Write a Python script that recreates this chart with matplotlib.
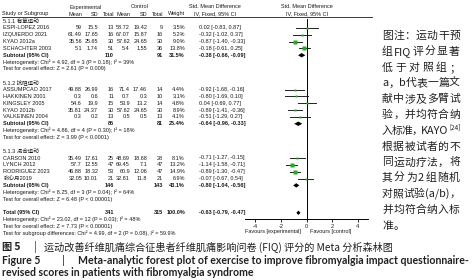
import re
import numpy as np
import matplotlib.pyplot as plt

# ── data ──────────────────────────────────────────────────────────────────────
groups = ["5.1.1 有氧运动", "5.1.2 抗阻运动", "5.1.3 混合运动"]

studies = [
    ["ESPI-LOPEZ 2016", "IZQUIERDO 2021", "KYAO 2012a", "SCHACHTER 2003"],
    ["ASSUMPCAO 2017", "HAKKINEN 2001", "KINGSLEY 2005", "KYAO 2012b", "VALKEINEN 2004"],
    ["CARSON 2010", "LYNCH 2012", "RODRIGUEZ 2023", "张心月2019"],
]
exp_mean = [[59, 61.49, 35.56, 5.1], [49.88, 0.3, 54.6, 35.81, 0.3], [35.49, 57.7, 46.88, 32.05]]
exp_sd = [[15.5, 17.65, 25.65, 1.74], [26.99, 0.6, 19.9, 24.37, 0.2], [17.61, 12.55, 18.32, 10.01]]
exp_n = [[13, 16, 30, 51], [16, 11, 15, 30, 13], [25, 47, 53, 21]]
ctl_mean = [[58.72, 67.07, 57.62, 5.4], [71.4, 0.7, 53.9, 57.62, 0.5], [48.69, 69.45, 60.9, 32.81]]
ctl_sd = [[19.42, 15.87, 24.65, 1.55], [17.46, 0.3, 13.2, 24.65, 0.5], [18.68, 7.1, 12.06, 11.8]]
ctl_n = [[9, 16, 30, 36], [14, 10, 14, 30, 13], [28, 47, 47, 21]]
weight = [[3.5, 5.2, 9.0, 13.8], [4.4, 3.1, 4.8, 8.9, 4.1], [8.1, 13.2, 14.9, 6.9]]
smd = [[0.02, -0.32, -0.87, -0.18], [-0.92, -0.80, 0.04, -0.89, -0.51], [-0.71, -1.14, -0.89, -0.07]]
lo = [[-0.83, -1.02, -1.40, -0.61], [-1.68, -1.69, -0.69, -1.41, -1.29], [-1.27, -1.58, -1.30, -0.67]]
hi = [[0.87, 0.37, -0.33, 0.25], [-0.16, 0.10, 0.77, -0.36, 0.27], [-0.15, -0.71, -0.47, 0.54]]

sub_weight = [31.5, 25.4, 43.1]
sub_smd = [-0.38, -0.64, -0.80]
sub_lo = [-0.66, -0.96, -1.04]
sub_hi = [-0.09, -0.33, -0.56]
sub_het = [
    "Heterogeneity: Chi² = 4.92, df = 3 (P = 0.18); I² = 39%",
    "Heterogeneity: Chi² = 4.86, df = 4 (P = 0.30); I² = 18%",
    "Heterogeneity: Chi² = 8.25, df = 3 (P = 0.04); I² = 64%",
]
sub_test = [
    "Test for overall effect: Z = 2.61 (P = 0.009)",
    "Test for overall effect: Z = 3.99 (P < 0.0001)",
    "Test for overall effect: Z = 6.48 (P < 0.00001)",
]
tot_smd, tot_lo, tot_hi = -0.63, -0.79, -0.47
tot_het = "Heterogeneity: Chi² = 23.02, df = 12 (P = 0.03); I² = 48%"
tot_test = "Test for overall effect: Z = 7.73 (P < 0.00001)"
tot_sub = "Test for subgroup differences: Chi² = 4.99, df = 2 (P = 0.08), I² = 59.9%"
ticks = [-4, -2, 0, 2, 4]

# "^" marks a superscript token
note_lines = [
    "图注：运动干预", "组 FIQ 评分显著", "低于对照组；", "a，b 代表一篇文",
    "献中涉及多臂试", "验，并均符合纳", "入标准，KAYO ^[24]", "根据被试者的不",
    "同运动疗法，将", "其分为 2 组随机", "对照试验 (a/b)，", "并均符合纳入标", "准。",
]
cap_cn = "运动改善纤维肌痛综合征患者纤维肌痛影响问卷 (FIQ) 评分的 Meta 分析森林图"
cap_en1 = "Meta-analytic forest plot of exercise to improve fibromyalgia impact questionnaire-"
cap_en2 = "revised scores in patients with fibromyalgia syndrome"

# ── layout ────────────────────────────────────────────────────────────────────
W, H = 475, 280
Y0, DY = 21.0, 6.85          # first row, row pitch (pixels)
AX_Y = 219                   # pixel row of the effect axis
FS = 4.0
TF = ["Liberation Sans", "Noto Sans CJK SC"]
INK = "#1a1a1a"
COLS = dict(em=82, esd=98, en=114, cm=130, csd=147, cn=163, w=185, ci=199)

fig = plt.figure(figsize=(W / 100, H / 100), dpi=100)
ov = fig.add_axes([0, 0, 1, 1])
ov.set_xlim(0, W)
ov.set_ylim(H, 0)
ov.axis("off")

fx = fig.add_axes([245 / W, 1 - AX_Y / H, 123 / W, (AX_Y - 19) / H])
fx.set_xlim(-4.8, 4.8)
fx.set_ylim(AX_Y, 19)
fx.patch.set_visible(False)
for s in ("left", "right", "top"):
    fx.spines[s].set_visible(False)
fx.spines["bottom"].set_linewidth(0.7)
fx.set_yticks([])
fx.set_xticks(ticks)
fx.set_xticklabels([str(t) for t in ticks], fontsize=FS, family=TF, color=INK)
fx.tick_params(axis="x", length=2.5, width=0.6, pad=1)
fx.axvline(0, color="black", lw=0.7)


def t(x, y, s, ha="left", bold=False, fs=FS):
    ov.text(x, y, s, ha=ha, va="center", fontsize=fs, family=TF, color=INK,
            fontweight="bold" if bold else "normal")


# headers
t(86, 7, "Experimental", "center")
t(140, 7, "Control", "center")
t(215, 7, "Std. Mean Difference", "center")
t(307, 7, "Std. Mean Difference", "center")
t(2, 14, "Study or Subgroup")
for k, s in [("em", "Mean"), ("esd", "SD"), ("en", "Total"), ("cm", "Mean"),
             ("csd", "SD"), ("cn", "Total"), ("w", "Weight")]:
    t(COLS[k], 14, s, "right")
t(215, 14, "IV, Fixed, 95% CI", "center")
t(307, 14, "IV, Fixed, 95% CI", "center")
ov.plot([2, 372], [17.3, 17.3], color=INK, lw=0.6)


def ci(m, a, b):
    return f"{m:.2f} [{a:.2f}, {b:.2f}]"


def diamond(y, m, a, b):
    fx.fill([a, m, b, m], [y, y - 2.2, y, y + 2.2], color="black", lw=0)


row = 0
for g in range(len(groups)):
    y = Y0 + row * DY
    t(3, y, groups[g])
    row += 1
    for i, name in enumerate(studies[g]):
        y = Y0 + row * DY
        t(3, y, name)
        t(COLS["em"], y, f"{exp_mean[g][i]:g}", "right")
        t(COLS["esd"], y, f"{exp_sd[g][i]:g}", "right")
        t(COLS["en"], y, str(exp_n[g][i]), "right")
        t(COLS["cm"], y, f"{ctl_mean[g][i]:g}", "right")
        t(COLS["csd"], y, f"{ctl_sd[g][i]:g}", "right")
        t(COLS["cn"], y, str(ctl_n[g][i]), "right")
        t(COLS["w"], y, f"{weight[g][i]:.1f}%", "right")
        t(COLS["ci"], y, ci(smd[g][i], lo[g][i], hi[g][i]))
        fx.plot([lo[g][i], hi[g][i]], [y, y], color="#222222", lw=0.7)
        fx.plot(smd[g][i], y, "s", color="#1fae1f", mec="none",
                ms=1.0 + weight[g][i] * 0.13)
        row += 1
    y = Y0 + row * DY
    t(3, y, "Subtotal (95% CI)", bold=True)
    t(COLS["en"], y, str(sum(exp_n[g])), "right", bold=True)
    t(COLS["cn"], y, str(sum(ctl_n[g])), "right", bold=True)
    t(COLS["w"], y, f"{sub_weight[g]:.1f}%", "right", bold=True)
    t(COLS["ci"], y, ci(sub_smd[g], sub_lo[g], sub_hi[g]), bold=True)
    diamond(y, sub_smd[g], sub_lo[g], sub_hi[g])
    row += 1
    t(3, Y0 + row * DY, sub_het[g])
    row += 1
    t(3, Y0 + row * DY, sub_test[g])
    row += 2

y = Y0 + row * DY
t(3, y, "Total (95% CI)", bold=True)
t(COLS["en"], y, str(sum(map(sum, exp_n))), "right", bold=True)
t(COLS["cn"], y, str(sum(map(sum, ctl_n))), "right", bold=True)
t(COLS["w"], y, "100.0%", "right", bold=True)
t(COLS["ci"], y, ci(tot_smd, tot_lo, tot_hi), bold=True)
diamond(y, tot_smd, tot_lo, tot_hi)
t(3, y + DY, tot_het)
t(3, y + 2 * DY, tot_test)
t(3, y + 3 * DY, tot_sub)
t(301, 231, "Favours [experimental]", "right")
t(310, 231, "Favours [control]")

# ── right-hand note, justified to a column ────────────────────────────────────
NF = ["Noto Sans CJK SC", "DejaVu Sans"]
NX0, NX1, NY0, NDY, NFS = 382, 460, 36, 15.8, 7.8
renderer = fig.canvas.get_renderer()
tok = re.compile(r"\^\S+|[A-Za-z0-9()/\[\]]+|\S")
for k, line in enumerate(note_lines):
    y = NY0 + k * NDY
    parts = tok.findall(line)
    objs, sup = [], []
    for p in parts:
        if p.startswith("^"):
            objs.append(ov.text(0, y - 3.2, p[1:], ha="left", va="center",
                                fontsize=4.6, family=NF, color="#231f20"))
            sup.append(True)
        else:
            objs.append(ov.text(0, y, p, ha="left", va="center", fontsize=NFS,
                                family=NF, color="#231f20"))
            sup.append(False)
    widths = [o.get_window_extent(renderer).width for o in objs]
    n_gaps = sum(1 for s in sup[1:] if not s)
    last = k == len(note_lines) - 1
    gap = 0.6 if last or n_gaps == 0 else (NX1 - NX0 - sum(widths)) / n_gaps
    x = NX0
    for j, (o, w) in enumerate(zip(objs, widths)):
        if j > 0:
            x += 0.3 if sup[j] else gap
        o.set_x(x)
        x += w

# ── caption ───────────────────────────────────────────────────────────────────
CF = ["Noto Sans CJK SC", "DejaVu Sans"]
ov.text(2, 247, "图 5", ha="left", va="center", fontsize=7.3, family=CF,
        fontweight="bold", color="#231f20")
ov.text(34, 247, "|", ha="left", va="center", fontsize=7.3, family=CF, color="#231f20")
ov.text(44, 247, cap_cn, ha="left", va="center", fontsize=7.3, family=CF, color="#231f20")
EF = ["Lato", "DejaVu Sans"]
ov.text(2, 260, "Figure 5", ha="left", va="center", fontsize=7.6, family=EF,
        fontweight="bold", color="#231f20")
ov.text(62, 260, "|", ha="left", va="center", fontsize=7.6, family=EF, color="#231f20")
ov.text(78, 260, cap_en1, ha="left", va="center", fontsize=7.6, family=EF,
        fontweight="bold", color="#231f20")
ov.text(2, 273, cap_en2, ha="left", va="center", fontsize=7.6, family=EF,
        fontweight="bold", color="#231f20")

fig.savefig("out.png", dpi=100)
